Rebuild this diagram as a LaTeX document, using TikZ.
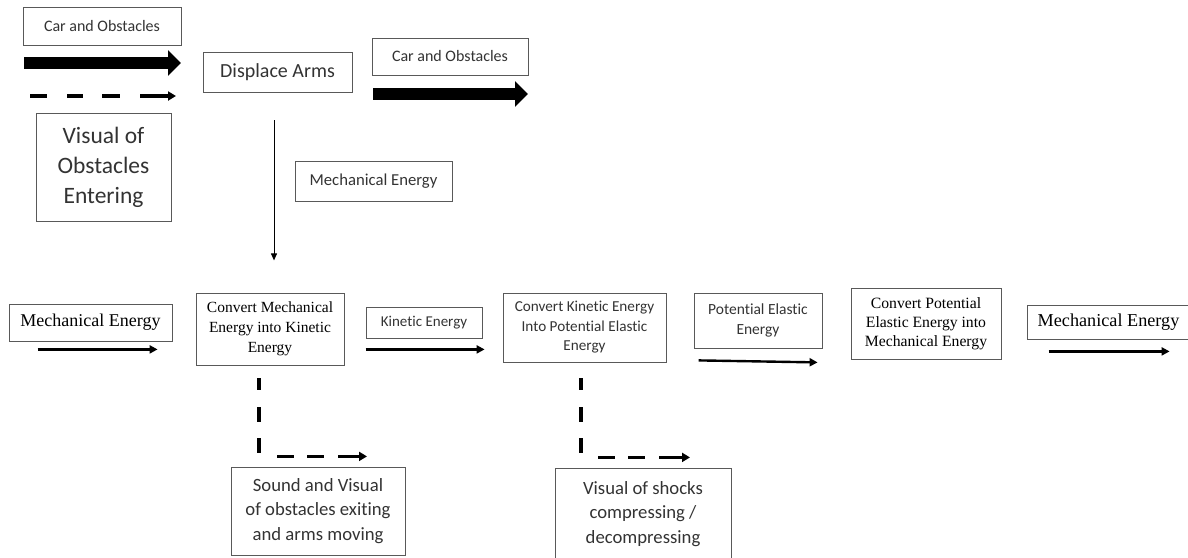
\documentclass[tikz,border=0pt]{standalone}
\usepackage{fontspec}
\setmainfont{Liberation Serif}
\newfontfamily\calibri[Ligatures=NoCommon]{Carlito}
\usetikzlibrary{arrows.meta}
\begin{document}
\begin{tikzpicture}[x=1pt,y=-1pt,
  box/.style={draw=black!65,line width=0.8pt,inner sep=0pt,align=center},
  sbox/.style 2 args={box,text=black!80,font=\calibri\fontsize{#1}{#2}\selectfont},
  rbox/.style 2 args={box,font=\fontsize{#1}{#2}\selectfont},
  fat arrow/.style={line width=12pt,-{Triangle[length=13pt,width=25pt]}},
  thin arrow/.style={line width=2.4pt,-{Triangle[length=8pt,width=8pt]}},
  dash arrow/.style={line width=3.5pt,-{Triangle[length=8pt,width=9pt]}}]
  \useasboundingbox (0,0) rectangle (1188,557);
  % top part
  \node (carA) [sbox={16}{19},minimum width=158pt,minimum height=38pt] at (102,26) {Car and Obstacles};
  \node (displace) [sbox={20}{24},minimum width=149pt,minimum height=40pt] at (277.5,72) {Displace Arms};
  \node (carB) [sbox={16}{19},minimum width=156pt,minimum height=37pt] at (450,56.5) {Car and Obstacles};
  \node (visualIn) [sbox={23.5}{30},minimum width=135pt,minimum height=108pt] at (103.5,167) {Visual of\\Obstacles\\Entering};
  \node (mechMid) [sbox={16.7}{20},minimum width=157pt,minimum height=40pt] at (373.5,181) {Mechanical Energy};
  \coordinate (fatA1) at (24,63); \coordinate (fatA2) at (181,63);
  \coordinate (fatB1) at (373,94); \coordinate (fatB2) at (528,94);
  \coordinate (dashA1) at (30,96); \coordinate (dashA2) at (176,96);
  \draw[fat arrow] (fatA1) -- (fatA2); %car going in
  \draw[fat arrow] (fatB1) -- (fatB2); %car going out
  \draw[dash arrow,dash pattern=on 17pt off 20pt on 16pt off 19pt on 18pt off 20pt on 60pt] (dashA1) -- (dashA2); %visual in
  \draw[line width=1pt,-{Triangle[length=7pt,width=6pt]}] (displace.south) ++(-3.5,28) -- ++(0,140); %down to the row
  % main row
  \node (mechL) [rbox={18}{22},minimum width=163pt,minimum height=37pt] at (90.5,322.5) {Mechanical Energy};
  \node (convMK) [rbox={15.5}{20},minimum width=148pt,minimum height=72pt] at (270,329) {Convert Mechanical\\Energy into Kinetic\\Energy};
  \node (kin) [sbox={15}{18},minimum width=116pt,minimum height=31pt] at (424,322.5) {Kinetic Energy};
  \node (convKP) [sbox={15.2}{19.5},minimum width=163pt,minimum height=69pt] at (584.5,327.5) {Convert Kinetic Energy\\Into Potential Elastic\\Energy};
  \node (pot) [sbox={15.5}{20},minimum width=128pt,minimum height=55pt] at (758,320.5) {Potential Elastic\\Energy};
  \node (convPM) [rbox={15.7}{19},minimum width=150pt,minimum height=71pt] at (926,323.5) {Convert Potential\\Elastic Energy into\\Mechanical Energy};
  \node (mechR) [rbox={18.2}{22},minimum width=163pt,minimum height=34pt] at (1108.5,322) {Mechanical Energy};
  \draw[thin arrow] (mechL.south west) ++(29,8) -- ++(120,0); %to convert 1
  \draw[thin arrow] (kin.south west) ++(0,11) -- ++(119,0); %to convert 2
  \draw[thin arrow] (pot.south west) ++(5,12) -- ++(119,2); %to convert 3
  \draw[thin arrow] (mechR.south west) ++(22,12) -- ++(121,0); %out
  % outputs below
  \node (sound) [sbox={18.7}{24.5},minimum width=174pt,minimum height=88pt] at (318,511) {Sound and Visual\\of obstacles exiting\\and arms moving};
  \node (shocks) [sbox={18.7}{24.5},minimum width=176pt,minimum height=92pt] at (643,514) {Visual of shocks\\compressing /\\decompressing};
  \draw[dash arrow,dash pattern=on 12pt off 17pt on 15pt off 16pt on 15pt off 21pt on 17pt off 13pt on 17pt off 14pt on 60pt] (convMK.south) ++(-11,13) |- ++(108,78); %sound and arms
  \draw[dash arrow,dash pattern=on 12pt off 17pt on 15pt off 16pt on 15pt off 21pt on 17pt off 13pt on 17pt off 14pt on 60pt] (convKP.south) ++(-3.5,16) |- ++(109,79); %shocks
\end{tikzpicture}
\end{document}
